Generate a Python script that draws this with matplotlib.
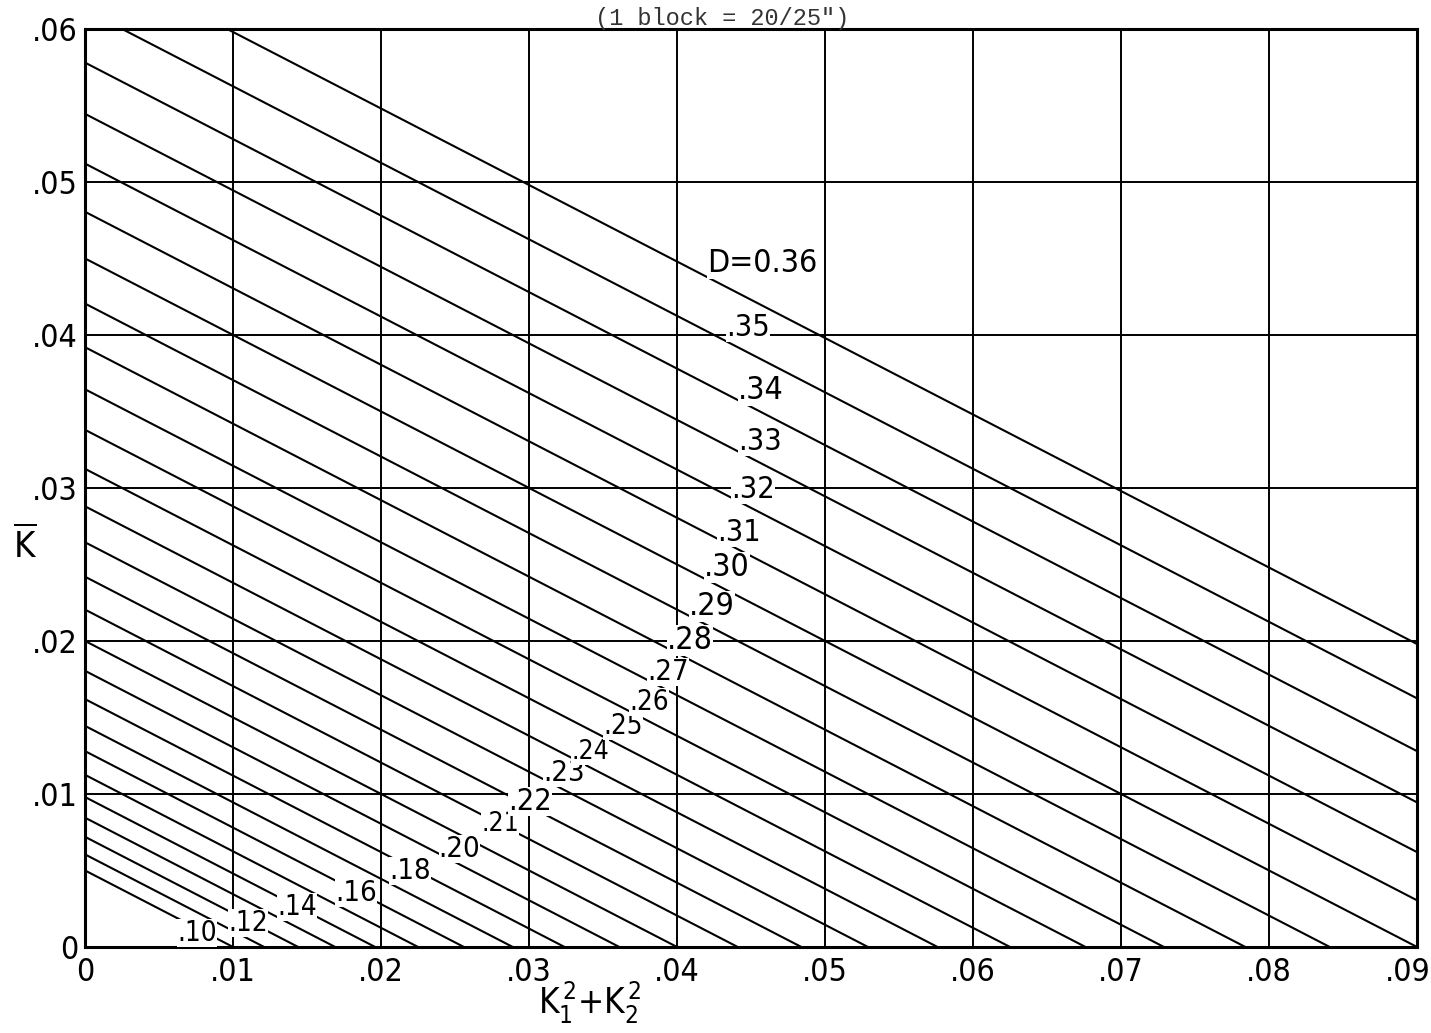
import matplotlib
matplotlib.use("Agg")
import matplotlib.pyplot as plt
from matplotlib import font_manager
from matplotlib.transforms import ScaledTranslation
import numpy as np

# Families of constant D: value of K-bar where each line meets the K-bar axis
d_labels = [".10", ".11", ".12", ".13", ".14", ".15", ".16", ".17", ".18", ".19",
            ".20", ".21", ".22", ".23", ".24", ".25", ".26", ".27", ".28", ".29",
            ".30", ".31", ".32", ".33", ".34", ".35", "D=0.36"]
k_at_zero = [0.0050, 0.00605, 0.0072, 0.00845, 0.0098, 0.01125, 0.0128, 0.01445,
             0.0162, 0.01805, 0.0200, 0.02205, 0.0242, 0.02645, 0.0288, 0.03125,
             0.0338, 0.03645, 0.0392, 0.04205, 0.0450, 0.04805, 0.0512, 0.05445,
             0.0578, 0.06125, 0.0648]
line_slope = -0.5  # d(K-bar) / d(K1^2 + K2^2), same for every line

# Which lines carry a written label, and where the lettering sits
labelled = [".10", ".12", ".14", ".16", ".18", ".20", ".21", ".22", ".23", ".24",
            ".25", ".26", ".27", ".28", ".29", ".30", ".31", ".32", ".33", ".34",
            ".35", "D=0.36"]
label_x = [0.00757, 0.01101, 0.01432, 0.01831, 0.02196, 0.02530, 0.02805, 0.03007,
           0.03236, 0.03412, 0.03635, 0.03810, 0.03940, 0.04088, 0.04236, 0.04338,
           0.04419, 0.04514, 0.04561, 0.04568, 0.04480, 0.04574]
label_y = [0.00092, 0.00157, 0.00261, 0.00353, 0.00497, 0.00640, 0.00805, 0.00948,
           0.01137, 0.01275, 0.01445, 0.01600, 0.01795, 0.02000, 0.02222, 0.02477,
           0.02706, 0.02987, 0.03301, 0.03640, 0.04046, 0.04464]
label_size = [20, 20, 20, 21, 21, 21, 19, 22, 21, 19, 20, 20, 21, 23, 23, 23,
              22, 22, 22, 23, 22, 23]

x_ticks = [0.0, 0.01, 0.02, 0.03, 0.04, 0.05, 0.06, 0.07, 0.08, 0.09]
x_ticklabels = ["0", ".01", ".02", ".03", ".04", ".05", ".06", ".07", ".08", ".09"]
y_ticks = [0.0, 0.01, 0.02, 0.03, 0.04, 0.05, 0.06]
y_ticklabels = ["0", ".01", ".02", ".03", ".04", ".05", ".06"]


def pick_lettering():
    """Prefer a narrow sans for the drafting-style numerals."""
    for fam in ["Liberation Sans Narrow", "Arial Narrow"]:
        try:
            font_manager.findfont(font_manager.FontProperties(family=fam),
                                  fallback_to_default=False)
            return [fam, "DejaVu Sans"], "normal"
        except Exception:
            pass
    path = font_manager.findfont(
        font_manager.FontProperties(family="DejaVu Sans", stretch="condensed"))
    if "Condensed" in path:
        return ["DejaVu Sans", "Liberation Sans"], "condensed"
    return ["Liberation Sans", "DejaVu Sans"], "normal"


LETTERING, STRETCH = pick_lettering()
plt.rcParams["font.family"] = LETTERING
plt.rcParams["font.stretch"] = STRETCH
plt.rcParams["mathtext.default"] = "regular"

fig = plt.figure(figsize=(14.31, 10.33), dpi=100)
ax = fig.add_axes([0.0594, 0.0833, 0.9308, 0.8887])
ax.set_xlim(0, 0.09)
ax.set_ylim(0, 0.06)

# grid blocks
ax.set_xticks(x_ticks)
ax.set_yticks(y_ticks)
ax.set_xticklabels(x_ticklabels, fontsize=23)
ax.set_yticklabels(y_ticklabels, fontsize=23)
ax.tick_params(axis="x", length=0, pad=7)
ax.tick_params(axis="y", length=0, pad=5)
# last x label nudged left so it stays on the sheet
last = ax.get_xticklabels()[-1]
last.set_transform(last.get_transform() + ScaledTranslation(-9 / 100, 0, fig.dpi_scale_trans))

ax.grid(True, color="black", linewidth=1.4, zorder=1)
ax.set_axisbelow(True)
for sp in ax.spines.values():
    sp.set_linewidth(2.2)
    sp.set_zorder(4)

# constant-D lines
for k0 in k_at_zero:
    x_end = -k0 / line_slope
    xs = np.array([0.0, x_end])
    ys = k0 + line_slope * xs
    ax.plot(xs, ys, color="black", linewidth=1.5, solid_capstyle="butt", zorder=2)

# lettering on the lines
for text, lx, ly, fs in zip(labelled, label_x, label_y, label_size):
    ax.text(lx, ly, text, fontsize=fs, ha="center", va="center", zorder=5,
            bbox=dict(facecolor="white", edgecolor="none", pad=0.1))

fig.text(590 / 1431, 1 - 1003 / 1033, r"$K_{1}^{\,2}$+$K_{2}^{\,2}$", fontsize=25,
         ha="center", va="center")
fig.text(25 / 1431, 1 - 545 / 1033, r"$\overline{K}$", fontsize=26,
         ha="center", va="center")
fig.text(722 / 1431, 1 - 25 / 1033, '(1 block = 20/25")', fontsize=17,
         family=["Liberation Mono", "DejaVu Sans Mono"], stretch="normal",
         color="#333333", ha="center", va="baseline")

fig.savefig("out.png", dpi=100, facecolor="white")
